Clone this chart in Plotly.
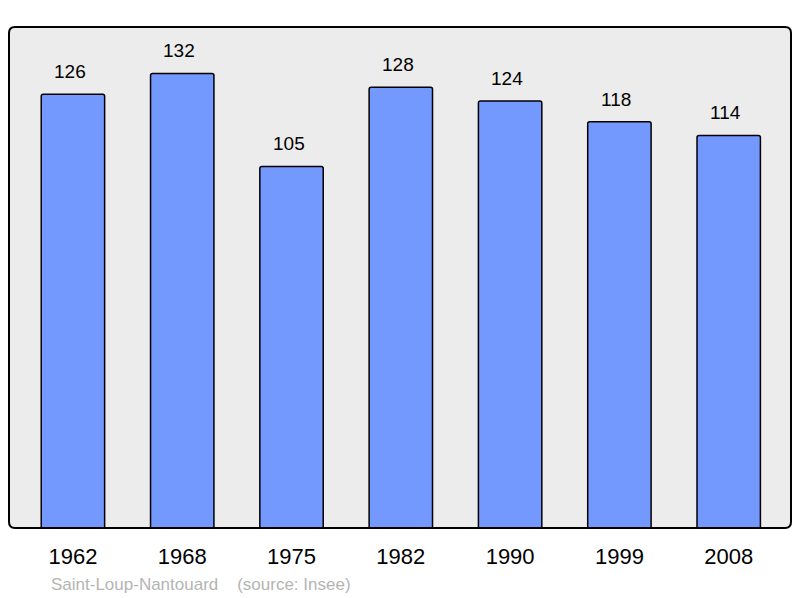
import plotly.graph_objects as go

years = ["1962", "1968", "1975", "1982", "1990", "1999", "2008"]
population = [126, 132, 105, 128, 124, 118, 114]
commune = "Saint-Loup-Nantouard"
source = "(source: Insee)"

fig = go.Figure()

fig.add_trace(go.Bar(
    x=years,
    y=population,
    width=0.58,
    marker=dict(color="#7399ff", line=dict(color="#000000", width=1.5), cornerradius=2),
    hoverinfo="x+y",
))

# value labels above each bar (x given as category index)
for i, val in enumerate(population):
    fig.add_annotation(x=i, y=val, xref="x", yref="y", text=str(val), showarrow=False,
                       yanchor="bottom", yshift=10, xshift=-3,
                       font=dict(family="Liberation Sans, Arial", size=19, color="#000000"))

# rounded frame: fill below the bars, border above
r_x, r_y = 6 / 782, 6 / 501
frame = (f"M {r_x},0 L {1 - r_x},0 Q 1,0 1,{r_y} L 1,{1 - r_y} Q 1,1 {1 - r_x},1 "
         f"L {r_x},1 Q 0,1 0,{1 - r_y} L 0,{r_y} Q 0,0 {r_x},0 Z")
fig.add_shape(type="path", path=frame, xref="paper", yref="paper",
              fillcolor="#ececec", line=dict(width=0), layer="below")
fig.add_shape(type="path", path=frame, xref="paper", yref="paper",
              line=dict(color="#000000", width=2), layer="above")

fig.add_annotation(x=0.051, y=-0.112, xref="paper", yref="paper", showarrow=False,
                   xanchor="left", yanchor="middle",
                   text=f"{commune}&nbsp;&nbsp;&nbsp;&nbsp;{source}",
                   font=dict(family="Liberation Sans, Arial", size=17, color="#b4b4b4"))

fig.update_layout(
    width=800, height=598,
    margin=dict(l=9, r=9, t=27, b=70),
    paper_bgcolor="#ffffff",
    plot_bgcolor="rgba(0,0,0,0)",
    showlegend=False,
    bargap=0.42,
    xaxis=dict(type="category", range=[-0.585, 6.57], showgrid=False, zeroline=False,
               showline=False, ticks="", ticklabelstandoff=13,
               tickfont=dict(family="Liberation Sans, Arial", size=22, color="#000000")),
    yaxis=dict(range=[0, 145.5], showgrid=False, zeroline=False, showline=False,
               showticklabels=False, ticks=""),
)

fig.write_html("out.html", config={"displayModeBar": False},
               post_script="document.body.style.margin='0';")
